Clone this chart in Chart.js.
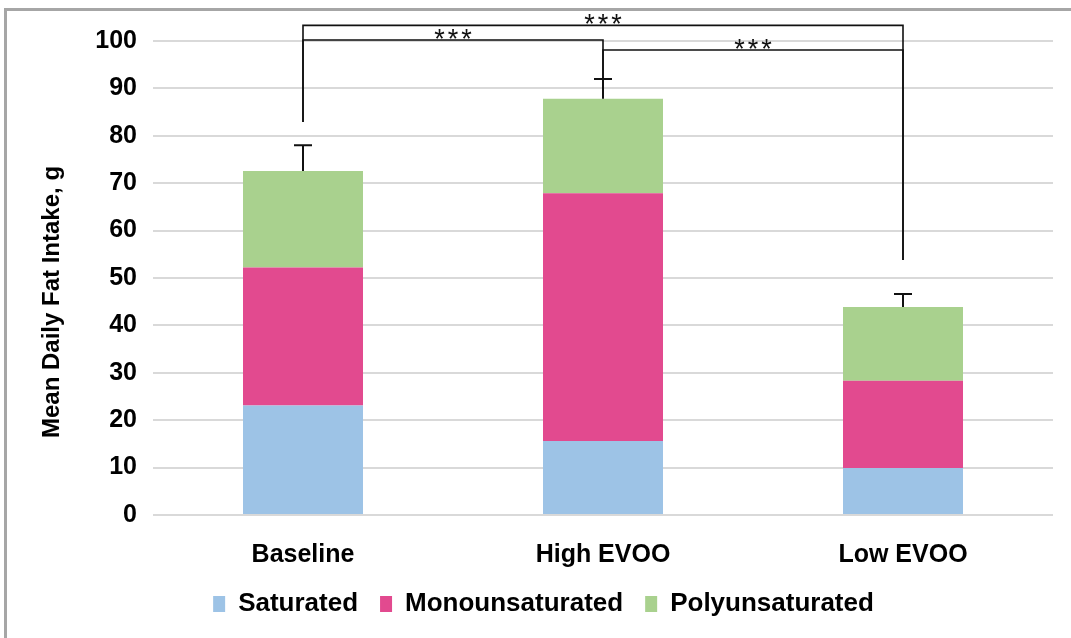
<!DOCTYPE html>
<html>
<head>
<meta charset="utf-8">
<script src="https://cdn.jsdelivr.net/npm/chart.js@4.4.0/dist/chart.umd.min.js"></script>
<style>
  html, body { margin: 0; padding: 0; background: #fff; overflow: hidden; }
  #wrap { position: relative; width: 1071px; height: 638px; }
  #frame { position: absolute; left: 4px; top: 8px; width: 1080px; height: 650px;
           border: 3px solid #a6a6a6; box-sizing: border-box; }
  canvas { position: absolute; left: 0; top: 0; }
</style>
</head>
<body>
<div id="wrap">
  <div id="frame"></div>
  <canvas id="myChart" width="1071" height="638"></canvas>
</div>
<script>
const groups = ['Baseline', 'High EVOO', 'Low EVOO'];
const saturated = [23.1, 15.6, 9.9];
const monounsaturated = [29.1, 52.3, 18.4];
const polyunsaturated = [20.4, 19.9, 15.6];
// upper error (SEM) on the total
const errors = [5.4, 4.2, 2.7];

// significance brackets: group index pairs and height in g
const bracketFrom = [0, 0, 1];
const bracketTo = [2, 1, 2];
const bracketLevel = [103.3, 100.2, 98.1];
const bracketLabel = ['***', '***', '***'];
// where the bracket legs stop above each group
const legEnd = [82.9, 92.0, 53.8];

const yTitle = 'Mean Daily Fat Intake, g';
const FONT = "'Liberation Sans', Arial, sans-serif";

const extras = {
    id: 'extras',
    afterDatasetsDraw(chart) {
        const c = chart.ctx;
        const x = chart.scales.x, y = chart.scales.y;
        c.save();
        c.strokeStyle = '#111';
        c.lineWidth = 2;

        // error bars
        groups.forEach((g, i) => {
            const total = saturated[i] + monounsaturated[i] + polyunsaturated[i];
            const cx = x.getPixelForValue(i);
            const y0 = y.getPixelForValue(total);
            const y1 = y.getPixelForValue(total + errors[i]);
            c.beginPath();
            c.moveTo(cx, y0); c.lineTo(cx, y1);
            c.moveTo(cx - 9, y1); c.lineTo(cx + 9, y1);
            c.stroke();
        });

        // brackets
        c.lineWidth = 1.6;
        c.fillStyle = '#111';
        c.font = '27px ' + FONT;
        c.textAlign = 'center';
        c.textBaseline = 'alphabetic';
        c.letterSpacing = '3px';
        bracketLevel.forEach((lv, k) => {
            const a = bracketFrom[k], b = bracketTo[k];
            const xa = x.getPixelForValue(a), xb = x.getPixelForValue(b);
            const yl = y.getPixelForValue(lv);
            c.beginPath();
            c.moveTo(xa, y.getPixelForValue(legEnd[a]));
            c.lineTo(xa, yl);
            c.lineTo(xb, yl);
            c.lineTo(xb, y.getPixelForValue(legEnd[b]));
            c.stroke();
            c.fillText(bracketLabel[k], (xa + xb) / 2 + 1.5, yl + 8);
        });

        // y axis title
        c.letterSpacing = '0px';
        c.font = 'bold 24px ' + FONT;
        c.fillStyle = '#000';
        c.translate(52, 302);
        c.rotate(-Math.PI / 2);
        c.textBaseline = 'middle';
        c.fillText(yTitle, 0, 0);
        c.restore();
    }
};

const ctx = document.getElementById('myChart').getContext('2d');
const myChart = new Chart(ctx, {
    type: 'bar',
    data: {
        labels: groups,
        datasets: [{
            label: 'Saturated',
            data: saturated,
            backgroundColor: '#9dc3e6'
        }, {
            label: 'Monounsaturated',
            data: monounsaturated,
            backgroundColor: '#e24a8f'
        }, {
            label: 'Polyunsaturated',
            data: polyunsaturated,
            backgroundColor: '#a9d18e'
        }]
    },
    plugins: [extras],
    options: {
        responsive: false,
        animation: false,
        categoryPercentage: 1,
        barPercentage: 0.4,
        layout: { padding: { left: 34, right: 18, top: 41, bottom: 11 } },
        plugins: {
            tooltip: { enabled: false },
            legend: {
                position: 'bottom',
                labels: {
                    boxWidth: 12,
                    boxHeight: 16,
                    padding: 22,
                    color: '#000',
                    font: { family: FONT, size: 26, weight: 'bold' }
                }
            }
        },
        scales: {
            x: {
                stacked: true,
                grid: { display: false },
                border: { display: false },
                ticks: {
                    color: '#000',
                    padding: 17,
                    font: { family: FONT, size: 25, weight: 'bold' }
                },
                afterFit(scale) { scale.height = 54; }
            },
            y: {
                stacked: true,
                min: 0,
                max: 100,
                grid: { color: '#d9d9d9', lineWidth: 2, drawTicks: false },
                border: { display: false },
                ticks: {
                    stepSize: 10,
                    color: '#000',
                    padding: 16,
                    font: { family: FONT, size: 25, weight: 'bold' }
                },
                afterFit(scale) { scale.width = 119; }
            }
        }
    }
});
</script>
</body>
</html>
